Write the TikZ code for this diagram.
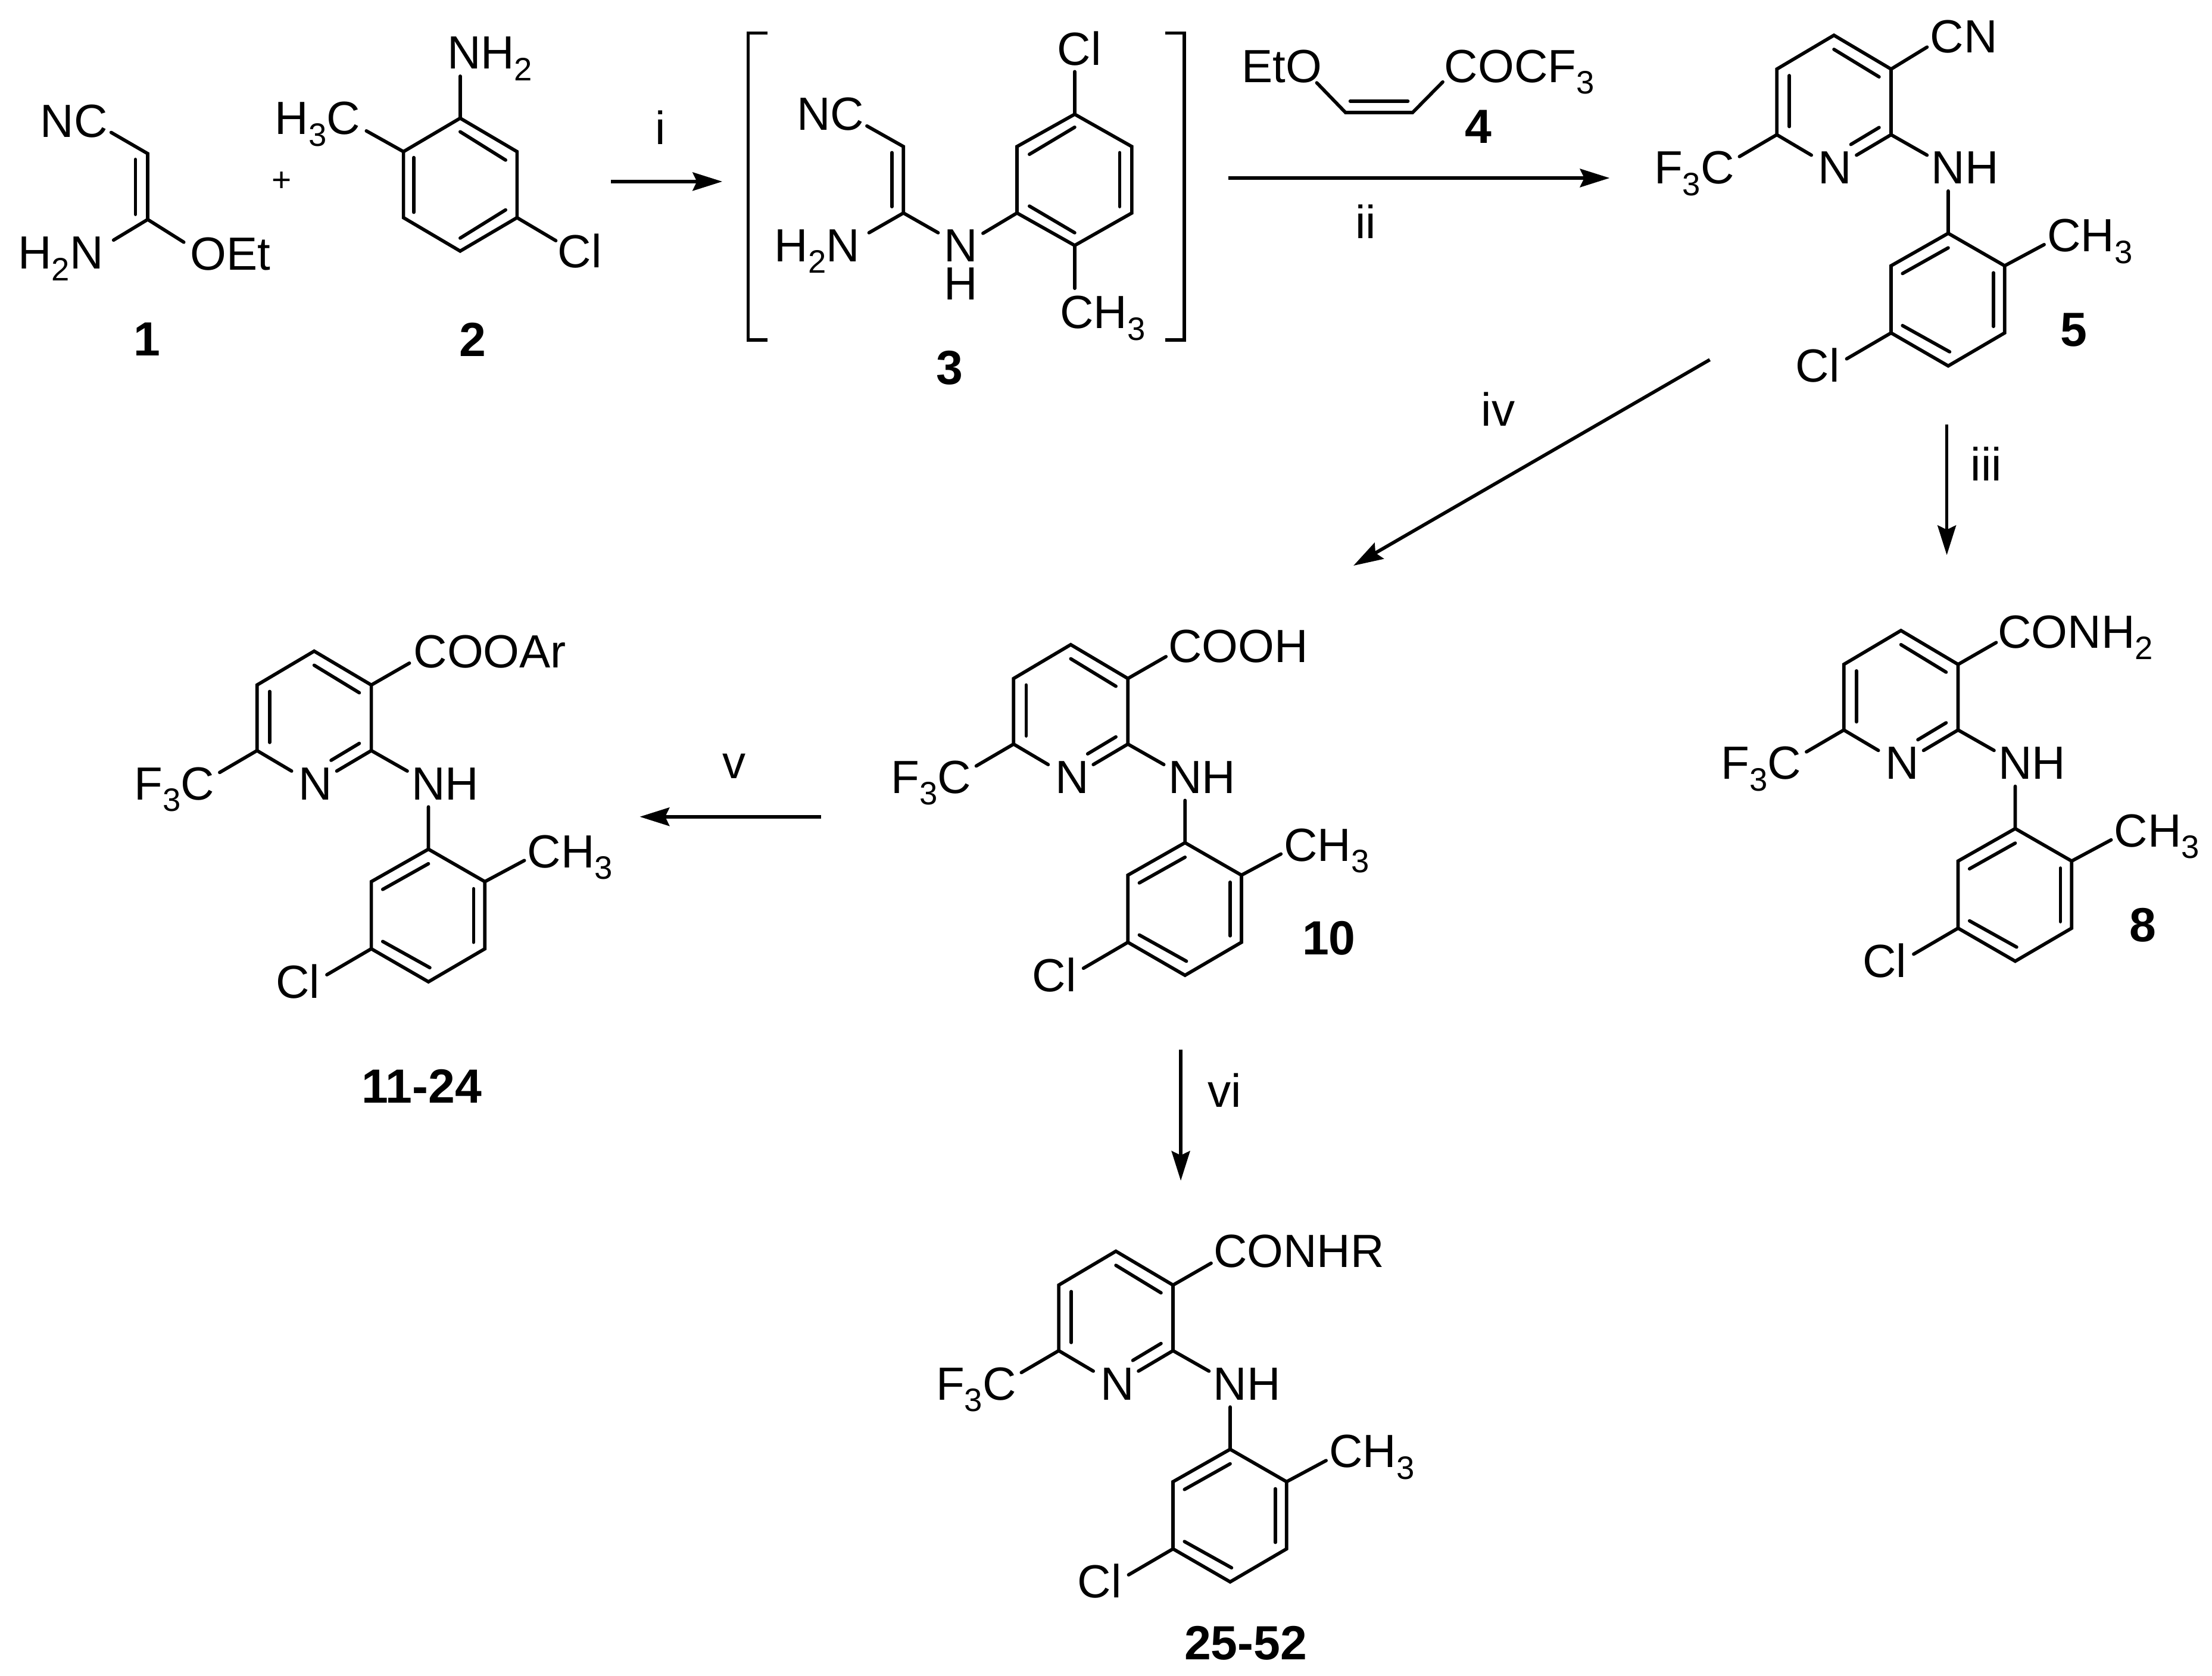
\documentclass[tikz,border=0pt]{standalone}
\usepackage{fontspec}
\setmainfont{Liberation Sans}
\usetikzlibrary{arrows.meta}
\newcommand{\fsz}{\fontsize{33}{27.3}\selectfont}
\newcommand{\fbd}{\fontsize{34}{36}\selectfont\bfseries}
\newcommand{\subs}[1]{\raisebox{-0.25em}[0pt][0pt]{\fontsize{23}{24}\selectfont #1}}
\tikzset{
  x=1pt,y=-1pt,
  bond/.style={line width=2.4pt,line cap=round,line join=miter},
  rxn/.style={line width=2.4pt,-{Stealth[length=21pt,width=13pt,inset=3pt]}},
  lab/.style={inner sep=0pt,font=\fsz},
  lft/.style={lab,anchor=west},
  rgt/.style={lab,anchor=east},
  cnum/.style={inner sep=0pt,font=\fbd},
  pm/.pic={
    \coordinate (-A) at (0,0);\coordinate (-B) at (40.5,24);\coordinate (-C) at (40.5,70.5);
    \coordinate (-D) at (-40.5,70.5);\coordinate (-E) at (-40.5,24);
    \coordinate (-P) at (81,140.4);\coordinate (-Q) at (121,163.4);\coordinate (-R) at (121,211);
    \coordinate (-S) at (81,234.4);\coordinate (-U) at (40.5,211);\coordinate (-V) at (40.5,163.4);
    \draw[bond] (66,85) -- (-C) -- (-B) -- (-A) -- (-E) -- (-D) -- (-16,85);
    \draw[bond] (-D) -- (-67,86);
    \draw[bond] (-C) -- (16,85);
    \draw[bond] (32,65.4) -- (12,77.4);
    \draw[bond] (0,10) -- (32,29.5);
    \draw[bond] (-31.6,28.6) -- (-31.6,64.7);
    \draw[bond] (81,110.4) -- (-P) -- (-Q) -- (-R) -- (-S) -- (-U) -- (-V) -- (-P);
    \draw[bond] (81,150.7) -- (48.6,168.9);
    \draw[bond] (113,168.4) -- (113,206.4);
    \draw[bond] (82,224.4) -- (48.6,205.8);
    \draw[bond] (-Q) -- (149,148.4);
    \draw[bond] (-U) -- (9,229.4);
    \node[lab] (-n) at (0.9,94) {N};
    \node[lab] (-nh) at (93,94) {NH};
    \node[rgt] (-cf) at (-70.5,94) {F\subs{3}C};
    \node[lft] (-me) at (151,142) {CH\subs{3}};
    \node[lab] (-cl) at (-11.6,234) {Cl};
  }
}
\begin{document}
\begin{tikzpicture}
\useasboundingbox (0,0) rectangle (1568,1188);
% compound 1
\node[lab] (nc1) at (52.5,86) {NC};
\node[rgt] (h2n1) at (73.5,179.4) {H\subs{2}N};
\node[lft] (oet1) at (134.8,180) {OEt};
\coordinate (c1a) at (104.7,108.9);\coordinate (c1b) at (104.7,155.6);
\draw[bond] (78.8,93.9) -- (c1a) -- (c1b) -- (80.5,170.2);
\draw[bond] (c1b) -- (130.3,171.7);
\draw[bond] (96,113) -- (96,152);
\node[cnum] (l1) at (104,240.7) {1};
\node[lab,font=\fontsize{24}{26}\selectfont] (plus) at (199.5,128.7) {+};
% compound 2
\node[lft] (nh2) at (316.8,37.5) {NH\subs{2}};
\node[rgt] (me2) at (255.5,84) {H\subs{3}C};
\node[lab] (cl2) at (411,178) {Cl};
\coordinate (a2) at (326.2,83.8);\coordinate (b2) at (366.5,107.5);\coordinate (c2) at (366.5,154.3);
\coordinate (d2) at (326.2,178);\coordinate (e2) at (286,154.3);\coordinate (f2) at (286,107.5);
\draw[bond] (a2) -- (b2) -- (c2) -- (d2) -- (e2) -- (f2) -- cycle;
\draw[bond] (a2) -- (326.2,54);
\draw[bond] (f2) -- (259.7,92.8);
\draw[bond] (c2) -- (394,170.6);
\draw[bond] (326.2,93.4) -- (358.4,113.5);
\draw[bond] (293.3,111.7) -- (293.3,150.5);
\draw[bond] (358.4,148.8) -- (326.2,168.8);
\node[cnum] (l2) at (335,240.7) {2};
% arrow i
\coordinate (ai) at (433,128.7);\coordinate (bi) at (512,128.7);
\draw[rxn] (ai) -- (bi);
\node[lab] (ti) at (468,90.2) {i};
% brackets
\coordinate (bl1) at (544,23.4);\coordinate (bl2) at (530.3,23.4);\coordinate (bl3) at (530.3,240.9);\coordinate (bl4) at (544,240.9);
\draw[bond,line cap=butt] (bl1) -- (bl2) -- (bl3) -- (bl4);
\coordinate (br1) at (826,23.4);\coordinate (br2) at (839.6,23.4);\coordinate (br3) at (839.6,240.9);\coordinate (br4) at (826,240.9);
\draw[bond,line cap=butt] (br1) -- (br2) -- (br3) -- (br4);
% compound 3
\node[lab] (nc3) at (588.7,81) {NC};
\node[rgt] (h2n3) at (609.6,174) {H\subs{2}N};
\node[lab,align=center] (n3) at (681,187.7) {N\\H};
\node[lab] (cl3) at (765,34.6) {Cl};
\node[lft] (me3) at (751.3,221.6) {CH\subs{3}};
\coordinate (c3a) at (640.4,103.9);\coordinate (c3b) at (640.4,151);
\draw[bond] (614.5,89.3) -- (c3a) -- (c3b) -- (616,165);
\draw[bond] (c3b) -- (665,165);
\draw[bond] (632.2,108.2) -- (632.2,146.5);
\coordinate (a3) at (761.8,81);\coordinate (b3) at (802.3,103.9);\coordinate (c3) at (802.3,151);
\coordinate (d3) at (761.8,174);\coordinate (e3) at (720.9,151);\coordinate (f3) at (720.9,103.9);
\draw[bond] (a3) -- (b3) -- (c3) -- (d3) -- (e3) -- (f3) -- cycle;
\draw[bond] (a3) -- (761.8,50.8);
\draw[bond] (d3) -- (761.8,204.4);
\draw[bond] (e3) -- (696.8,165.4);
\draw[bond] (761.8,90.2) -- (729.7,109.4);
\draw[bond] (793.7,108.2) -- (793.7,146.5);
\draw[bond] (761.8,165) -- (729.7,146.1);
\node[cnum] (l3) at (673,260.7) {3};
% compound 4
\node[lft] (eto) at (880,47) {EtO};
\node[lft] (cocf) at (1023.7,47) {COCF\subs{3}};
\coordinate (a4) at (933.4,58.7);\coordinate (b4) at (953.8,79.8);\coordinate (c4) at (1001.3,79.8);\coordinate (d4) at (1022.7,58.1);
\draw[bond] (a4) -- (b4) -- (c4) -- (d4);
\draw[bond] (957.1,71.7) -- (998,71.7);
\node[cnum] (l4) at (1047.9,90) {4};
% arrow ii
\coordinate (aii) at (870.6,126.2);\coordinate (bii) at (1141,126.2);
\draw[rxn] (aii) -- (bii);
\node[lab] (tii) at (968,157) {ii};
% pyridines
\pic (p5) at (1300,25) {pm};
\node[lft] (cn5) at (1368,26) {CN};
\draw[bond] (p5-B) -- (1366,33.4);
\node[cnum] (l5) at (1470,234) {5};
\pic (p8) at (1347.5,447) {pm};
\node[lft] (cn8) at (1416,448) {CONH\subs{2}};
\draw[bond] (p8-B) -- (1415,455.5);
\node[cnum] (l8) at (1519,656) {8};
\pic (p10) at (759,457) {pm};
\node[lft] (cn10) at (828,458) {COOH};
\draw[bond] (p10-B) -- (826.5,465.5);
\node[cnum] (l10) at (942,665) {10};
\pic (p11) at (222.7,461.6) {pm};
\node[lft] (cn11) at (293,462) {COOAr};
\draw[bond] (p11-B) -- (290.2,470.1);
\node[cnum] (l11) at (299,770) {11-24};
\pic (p25) at (791,887) {pm};
\node[lft] (cn25) at (860,887) {CONHR};
\draw[bond] (p25-B) -- (858.5,895.5);
\node[cnum] (l25) at (883,1165) {25-52};
% other arrows
\coordinate (aiv) at (1212,255);\coordinate (biv) at (959.4,401);
\draw[rxn] (aiv) -- (biv);
\node[lab] (tiv) at (1062,290) {iv};
\coordinate (aiii) at (1380,301);\coordinate (biii) at (1380,393.5);
\draw[rxn] (aiii) -- (biii);
\node[lab] (tiii) at (1408,329) {iii};
\coordinate (av) at (582,579);\coordinate (bv) at (453.5,579);
\draw[rxn] (av) -- (bv);
\node[lab] (tv) at (520.5,543) {v};
\coordinate (avi) at (837,744);\coordinate (bvi) at (837,837);
\draw[rxn] (avi) -- (bvi);
\node[lab] (tvi) at (868,773) {vi};
\end{tikzpicture}
\end{document}
